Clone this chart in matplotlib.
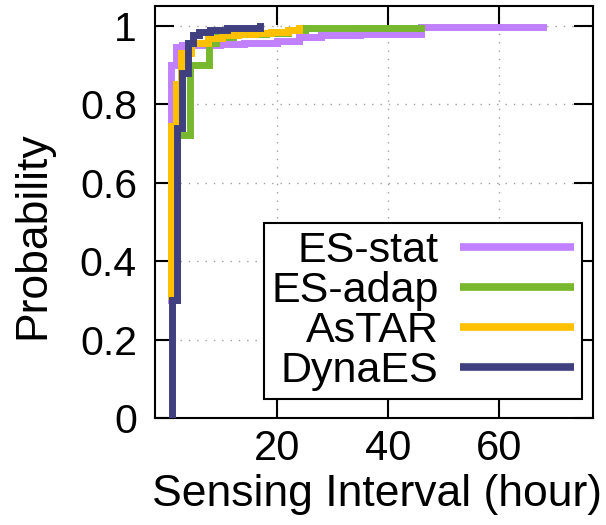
import matplotlib
matplotlib.use("Agg")
import matplotlib.pyplot as plt
from matplotlib.ticker import FormatStrFormatter

plt.rcParams['font.family'] = ['Liberation Sans', 'DejaVu Sans']

# CDF step points (hours, cumulative probability)
stat_x = [0.85, 0.85, 1.8, 2.9, 9.8, 14, 20, 24, 28, 35, 46, 68]
stat_y = [0.30, 0.90, 0.945, 0.95, 0.952, 0.956, 0.962, 0.97, 0.975, 0.978, 0.997, 0.997]

adap_x = [2.0, 2.0, 4.3, 7.8, 9, 12, 18, 22, 25, 46]
adap_y = [0.30, 0.72, 0.90, 0.955, 0.97, 0.978, 0.982, 0.988, 0.993, 0.993]

astar_x = [0.85, 0.85, 1.8, 2.7, 4.5, 7.5, 10, 13, 16, 19, 22, 24]
astar_y = [0.31, 0.745, 0.85, 0.93, 0.955, 0.968, 0.975, 0.978, 0.981, 0.985, 0.99, 0.995]

dyna_x = [1.0, 1.0, 2.0, 2.9, 3.9, 4.9, 6, 8, 11, 17]
dyna_y = [0.0, 0.30, 0.74, 0.88, 0.955, 0.975, 0.985, 0.99, 0.995, 0.998]

labels = ['ES-stat', 'ES-adap', 'AsTAR', 'DynaES']
colors = ['#c080ff', '#77b82e', '#ffc000', '#404080']
series = [(stat_x, stat_y), (adap_x, adap_y), (astar_x, astar_y), (dyna_x, dyna_y)]

fig = plt.figure(figsize=(6.06, 5.25), dpi=100)
ax = fig.add_axes([155 / 606, 1 - 418 / 525, 438 / 606, 412 / 525])

for (xs, ys), lab, col in zip(series, labels, colors):
    ax.plot(xs, ys, drawstyle='steps-post', color=col, lw=5, label=lab,
            solid_joinstyle='miter', zorder=3)

ax.set_xlim(-2, 77)
ax.set_ylim(0, 1.05)
ax.set_xticks([20, 40, 60])
ax.set_yticks([0, 0.2, 0.4, 0.6, 0.8, 1.0])
ax.yaxis.set_major_formatter(FormatStrFormatter('%g'))
ax.grid(True, color='#a0a0a0', linestyle=(0, (1, 5)), linewidth=1.0)
ax.set_axisbelow(True)

ax.tick_params(direction='in', length=13.5, width=1.5, top=True, right=True,
               colors='black')
ax.tick_params(axis='y', pad=13, labelsize=29.5)
ax.tick_params(axis='x', pad=8, labelsize=30)
for s in ax.spines.values():
    s.set_linewidth(1.5)

ax.set_xlabel('Sensing Interval (hour)', fontsize=32)
ax.set_ylabel('Probability', fontsize=32)
ax.xaxis.set_label_coords(0.507, -0.135)
ax.yaxis.set_label_coords(-0.233, 0.444)

leg = ax.legend(loc='upper right', bbox_to_anchor=(0.975, 0.473), borderaxespad=0,
                fontsize=31, markerfirst=False, handlelength=2.65, handletextpad=0.5,
                labelspacing=0.0, borderpad=0.18, fancybox=False, framealpha=1,
                edgecolor='black')
leg.get_frame().set_linewidth(1.5)
for line in leg.get_lines():
    line.set_linewidth(5.5)
    line.set_solid_capstyle('butt')

fig.savefig('out.png', dpi=100)
